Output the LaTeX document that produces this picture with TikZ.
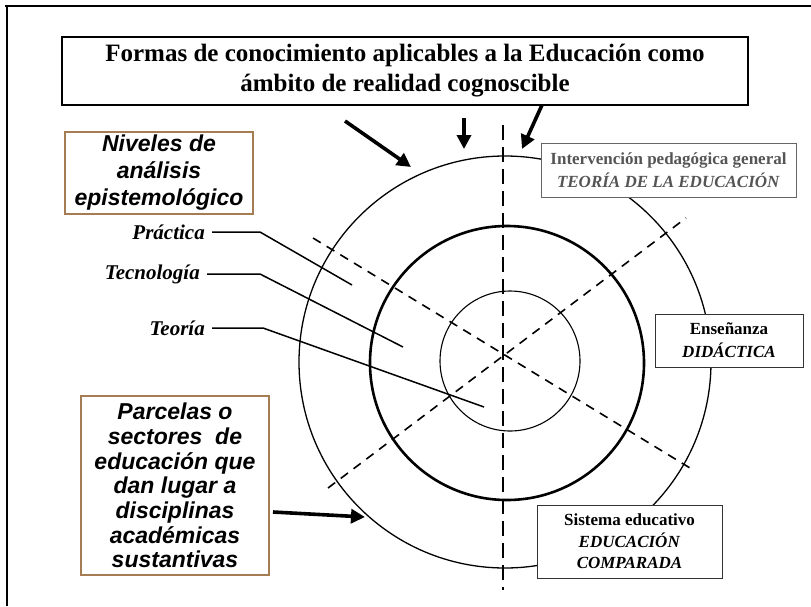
\documentclass[tikz,border=0pt]{standalone}
\usepackage{fontspec}
\setmainfont{Liberation Serif}
\newfontfamily\heavy{Liberation Sans}
\usetikzlibrary{arrows.meta}
\definecolor{boxbrown}{RGB}{166,124,82}
\definecolor{greytext}{RGB}{85,85,85}
\begin{document}
\begin{tikzpicture}[x=1pt,y=-1pt,
  bigarrow/.style={line width=3.6pt,-{Triangle[length=14pt,width=14pt]}},
  dashv/.style={line width=2.2pt,dash pattern=on 15pt off 7pt},
  dashd/.style={line width=1.6pt,dash pattern=on 9pt off 7pt},
  brownbox/.style={draw=boxbrown,line width=1.4pt,fill=white,align=center,inner sep=0pt,
     font=\heavy\bfseries\itshape\fontsize{23}{27}\selectfont},
  infobox/.style={draw=black!80,line width=1pt,fill=white,align=center,inner sep=0pt,
     font=\bfseries\fontsize{17}{23}\selectfont},
  levellabel/.style={anchor=east,inner sep=0pt,inner xsep=7pt,font=\bfseries\itshape\fontsize{21}{24}\selectfont},
  leader/.style={line width=1.5pt}
]
\useasboundingbox (0,0) rectangle (811,606);
% outer frame
\draw[line width=2pt] (5,5.5) -- (811,5.5);
\draw[line width=2pt] (7,5.5) -- (7,606);
% circles
\draw[line width=1.3pt] (505,362) circle (206);
\draw[line width=2.6pt] (507,363) circle (137);
\draw[line width=1.1pt] (510,361) circle (70);
% dashed axes
\coordinate (vtop) at (503,125);
\coordinate (vbot) at (503,590);
\coordinate (d1a) at (313,238);
\coordinate (d1b) at (690,468);
\coordinate (d2a) at (328,488);
\coordinate (d2b) at (686,218);
\draw[dashv] (vtop) -- (vbot);
\draw[dashd] (d1a) -- (d1b);
\draw[dashd] (d2a) -- (d2b);
% title box
\node[draw=black,line width=1.4pt,fill=white,align=center,minimum width=686pt,minimum height=68pt,
  inner sep=0pt,font=\bfseries\fontsize{25}{30}\selectfont] (title) at (405,71)
  {Formas de conocimiento aplicables a la Educación como\\ámbito de realidad cognoscible};
% brown boxes
\node[brownbox,minimum width=188pt,minimum height=82pt] (niveles) at (159,173)
  {Niveles de\\análisis\\epistemológico};
\node[brownbox,minimum width=188pt,minimum height=179pt,font=\heavy\bfseries\itshape\fontsize{23}{24.7}\selectfont] (parcelas) at (175,485.5)
  {Parcelas o\\sectores\ \ de\\educación que\\dan lugar a\\disciplinas\\académicas\\sustantivas};
% info boxes
\node[infobox,draw=black!60,text=greytext,minimum width=255pt,minimum height=54pt] (interv) at (668.5,170)
  {Intervención pedagógica general\\\textit{TEORÍA DE LA EDUCACIÓN}};
\node[infobox,minimum width=148pt,minimum height=53pt] (ense) at (729,340.5)
  {Enseñanza\\\textit{DIDÁCTICA}};
\node[infobox,minimum width=185pt,minimum height=73pt,font=\bfseries\fontsize{17}{21.5}\selectfont] (sist) at (629.5,541.5)
  {Sistema educativo\\\textit{EDUCACIÓN}\\\textit{COMPARADA}};
% level labels and leaders
\node[levellabel] (prac) at (212,232) {Práctica};
\node[levellabel] (tecn) at (207,274) {Tecnología};
\node[levellabel] (teor) at (212,328) {Teoría};
\coordinate (pk) at (260,232);
\coordinate (pe) at (352,285);
\coordinate (tk) at (260,274);
\coordinate (te) at (403,347);
\coordinate (ok) at (263,328);
\coordinate (oe) at (484,407);
\draw[leader] (prac.east) -- (pk) -- (pe);
\draw[leader] (tecn.east) -- (tk) -- (te);
\draw[leader] (teor.east) -- (ok) -- (oe);
% arrows
\coordinate (a1s) at (345,121);
\coordinate (a1e) at (411,167);
\coordinate (a2s) at (464,118);
\coordinate (a2e) at (464,149);
\coordinate (a3s) at (542,105);
\coordinate (a3e) at (522,149);
\coordinate (a4s) at (273,512);
\coordinate (a4e) at (365,517);
\draw[bigarrow] (a1s) -- (a1e);
\draw[bigarrow] (a2s) -- (a2e);
\draw[bigarrow] (a3s) -- (a3e);
\draw[bigarrow] (a4s) -- (a4e);
\end{tikzpicture}
\end{document}
